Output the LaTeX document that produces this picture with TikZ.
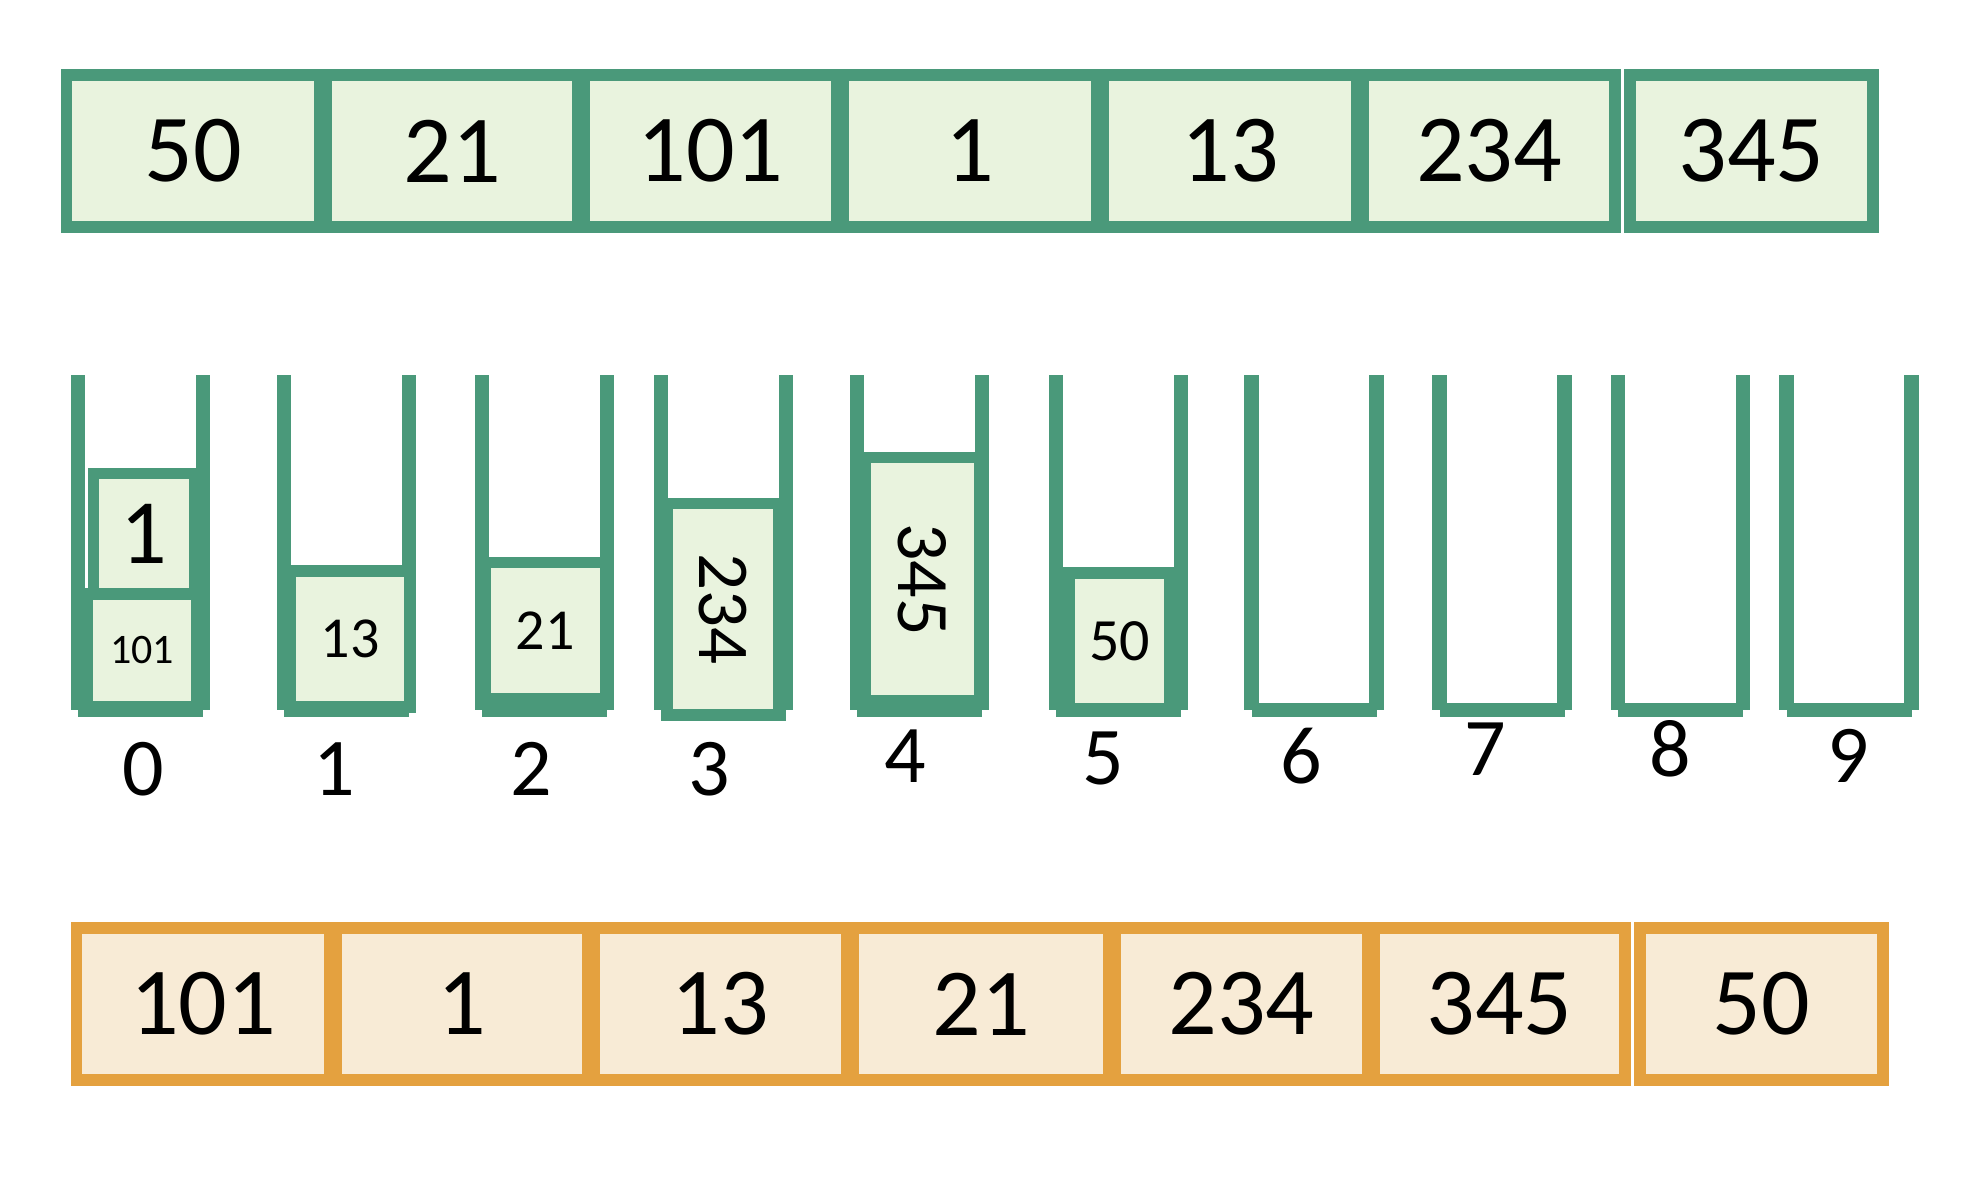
\documentclass[tikz,border=0pt]{standalone}
\usepackage{fontspec}
\setmainfont{Carlito}
\definecolor{gline}{HTML}{4A997A}
\definecolor{gfill}{HTML}{E9F3DE}
\definecolor{oline}{HTML}{E4A13F}
\definecolor{ofill}{HTML}{F8EBD6}
\begin{document}
\begin{tikzpicture}[x=0.5pt,y=-0.5pt,
  gcell/.style={draw=gline, fill=gfill, line width=5.8pt, inner sep=0pt},
  ocell/.style={draw=oline, fill=ofill, line width=5.8pt, inner sep=0pt},
  wall/.style={draw=gline, line width=7.15pt, line cap=butt},
  big/.style={font=\fontsize{48}{50}\selectfont},
  lab/.style={inner sep=0pt, font=\fontsize{41}{44}\selectfont},
]
\useasboundingbox (0,0) rectangle (1966,1180);

% top row
\node[gcell,big,minimum width=126.75pt,minimum height=76.25pt] (t1) at (193.25,151) {50};
\node[gcell,big,minimum width=126pt,minimum height=76.25pt] (t2) at (452,151) {21};
\node[gcell,big,minimum width=126.5pt,minimum height=76.25pt] (t3) at (710.5,151) {101};
\node[gcell,big,minimum width=127pt,minimum height=76.25pt] (t4) at (970,151) {1};
\node[gcell,big,minimum width=127pt,minimum height=76.25pt] (t5) at (1230,151) {13};
\node[gcell,big,minimum width=126pt,minimum height=76.25pt] (t6) at (1489,151) {234};
\node[gcell,big,minimum width=121.5pt,minimum height=76.25pt] (t7) at (1751.5,151) {345};

% buckets
\foreach \L/\B in {78/710,284/710,482/710,661/714,857/710,1056/710,1251.5/710,1439.5/710,1618/710,1786.5/710}{
  \draw[wall] (\L,375) -- (\L,710);
  \draw[wall] (\L+125,375) -- (\L+125,710);
  \draw[wall] (\L,\B) -- (\L+125,\B);
}

% bucket contents
\node[gcell,font=\fontsize{21}{23}\selectfont,minimum width=54.75pt,minimum height=56.5pt] (k0b) at (142.25,650.5) {101};
\node[gcell,font=\fontsize{46}{48}\selectfont,minimum width=50.75pt,minimum height=60.35pt] (k0a) at (144.25,533.65) {1};
\node[gcell,font=\fontsize{29}{31}\selectfont,minimum width=60pt,minimum height=68pt] (k1) at (350,639) {13};
\node[gcell,font=\fontsize{29}{31}\selectfont,minimum width=60.25pt,minimum height=68pt] (k2) at (545.25,630.5) {21};
\node[gcell,font=\fontsize{36.5}{38}\selectfont,rotate=-90,minimum width=105.75pt,minimum height=55.75pt] (k3) at (723.25,609.25) {234};
\node[gcell,font=\fontsize{37}{39}\selectfont,rotate=-90,minimum width=121.75pt,minimum height=57.5pt] (k4) at (922.5,579.25) {345};
\node[gcell,font=\fontsize{30}{32}\selectfont,minimum width=50.5pt,minimum height=68pt] (k5) at (1119.5,641) {50};

% bucket labels
\node[lab] (l0) at (143,769) {0};
\node[lab] (l1) at (334,769) {1};
\node[lab] (l2) at (531,769) {2};
\node[lab] (l3) at (709,769) {3};
\node[lab] (l4) at (905,756.5) {4};
\node[lab] (l5) at (1103.6,758) {5};
\node[lab] (l6) at (1301,756) {6};
\node[lab] (l7) at (1485,749) {7};
\node[lab] (l8) at (1670,749) {8};
\node[lab] (l9) at (1848,756) {9};

% bottom row
\node[ocell,big,minimum width=126.8pt,minimum height=76pt] (b1) at (203.2,1004) {101};
\node[ocell,big,minimum width=126pt,minimum height=76pt] (b2) at (462,1004) {1};
\node[ocell,big,minimum width=126.5pt,minimum height=76pt] (b3) at (720.5,1004) {13};
\node[ocell,big,minimum width=128pt,minimum height=76pt] (b4) at (981,1004) {21};
\node[ocell,big,minimum width=126.5pt,minimum height=76pt] (b5) at (1241.5,1004) {234};
\node[ocell,big,minimum width=125.5pt,minimum height=76pt] (b6) at (1499.5,1004) {345};
\node[ocell,big,minimum width=121.5pt,minimum height=76pt] (b7) at (1761.5,1004) {50};
\end{tikzpicture}
\end{document}
